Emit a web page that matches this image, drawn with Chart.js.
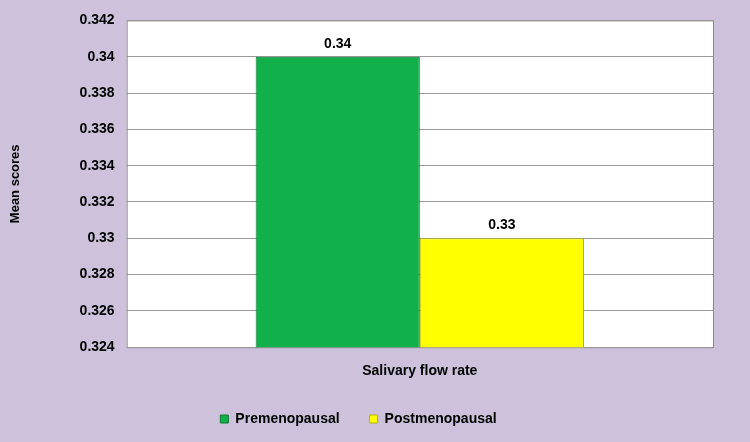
<!DOCTYPE html>
<html><head><meta charset="utf-8">
<script src="https://cdn.jsdelivr.net/npm/chart.js@4"></script>
<style>html,body{margin:0;padding:0;background:#cdc1db;}#w{width:750px;height:442px;}</style>
</head><body><div id="w"><canvas id="c"></canvas></div>
<script>
const categories = ["Salivary flow rate"];
const seriesNames = ["Premenopausal", "Postmenopausal"];
const premenopausal = [0.34];
const postmenopausal = [0.33];
const yMin = 0.324, yMax = 0.342, yStep = 0.002;

const labelPlugin = {
  id: 'lbl',
  afterDatasetsDraw(chart) {
    const ctx = chart.ctx;
    ctx.save();
    ctx.font = 'bold 14px "Liberation Sans", Arial';
    ctx.fillStyle = '#000';
    ctx.textAlign = 'center';
    ctx.textBaseline = 'bottom';
    chart.data.datasets.forEach((ds, i) => {
      chart.getDatasetMeta(i).data.forEach((el, j) => {
        ctx.fillText(String(ds.data[j]), el.x, el.y - 6);
      });
    });
    ctx.restore();
  }
};
const areaBorder = {
  id: 'ab',
  beforeDraw(chart) {
    const {ctx, chartArea: a} = chart;
    ctx.save();
    ctx.fillStyle = '#fff';
    ctx.fillRect(a.left, a.top, a.right - a.left, a.bottom - a.top);
    ctx.strokeStyle = '#888';
    ctx.lineWidth = 1;
    ctx.strokeRect(a.left + 0.5, a.top + 0.5, a.right - a.left, a.bottom - a.top);
    ctx.restore();
  }
};

new Chart(document.getElementById('c'), {
  type: 'bar',
  data: {
    labels: categories,
    datasets: [
      {label: seriesNames[0], data: premenopausal, backgroundColor: '#12b04a', borderColor: '#0a7a30', borderWidth: 1},
      {label: seriesNames[1], data: postmenopausal, backgroundColor: '#ffff00', borderColor: '#b5b500', borderWidth: 1}
    ]
  },
  options: {
    responsive: true, maintainAspectRatio: false, animation: false,
    devicePixelRatio: 1,
    layout: {padding: {top: 6, right: 37, left: 4, bottom: 6}},
    datasets: {bar: {categoryPercentage: 0.56, barPercentage: 1}},
    scales: {
      x: {
        grid: {display: false},
        border: {display: false},
        ticks: {display: false},
        title: {display: true, text: 'Salivary flow rate', color: '#000', font: {family: '"Liberation Sans", Arial', size: 14, weight: 'bold'}, padding: {top: 8, bottom: 2}}
      },
      y: {
        min: yMin, max: yMax,
        grid: {color: '#999', drawTicks: false},
        border: {display: false},
        ticks: {stepSize: yStep, padding: 12, color: '#000', font: {family: '"Liberation Sans", Arial', size: 14, weight: 'bold'},
          callback: v => String(parseFloat(v.toFixed(3)))},
        title: {display: true, text: 'Mean scores', color: '#000', font: {family: '"Liberation Sans", Arial', size: 13, weight: 'bold'}, padding: {top: 4, bottom: 44}}
      }
    },
    plugins: {
      legend: {position: 'bottom', labels: {boxWidth: 8, boxHeight: 8, padding: 30, color: '#000', font: {family: '"Liberation Sans", Arial', size: 14, weight: 'bold'}}},
      tooltip: {enabled: false}
    }
  },
  plugins: [areaBorder, labelPlugin]
});
</script></body></html>
